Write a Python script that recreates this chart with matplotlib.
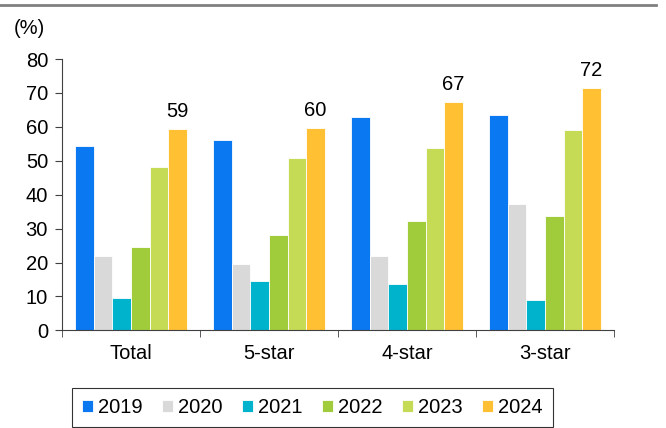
import numpy as np
import matplotlib
matplotlib.use("Agg")
import matplotlib.pyplot as plt
from matplotlib.lines import Line2D

plt.rcParams["font.family"] = ["Liberation Sans", "DejaVu Sans"]

categories = ["Total", "5-star", "4-star", "3-star"]
years = ["2019", "2020", "2021", "2022", "2023", "2024"]
v2019 = [54.3, 56.0, 62.8, 63.4]
v2020 = [21.8, 19.5, 21.8, 37.2]
v2021 = [9.7, 14.7, 13.6, 9.1]
v2022 = [24.5, 28.0, 32.4, 33.6]
v2023 = [48.1, 50.7, 53.7, 59.0]
v2024 = [59.4, 59.6, 67.4, 71.6]
colors = ["#0A78F0", "#D9D9D9", "#00B3CC", "#A0CC3C", "#C5DB55", "#FFC034"]

series = [v2019, v2020, v2021, v2022, v2023, v2024]
fs = 14.5

fig = plt.figure(figsize=(6.66, 4.28), dpi=100)
ax = fig.add_axes([0.093, 0.228, 0.829, 0.634])

x = np.arange(len(categories))
bw = 0.135
for i, (vals, col, yr) in enumerate(zip(series, colors, years)):
    pos = x + (i - 2.5) * bw
    ax.bar(pos, vals, width=bw, color=col, edgecolor="white", linewidth=0.6, label=yr)

# value labels above the 2024 bars
for xi, v in zip(x + 2.5 * bw, v2024):
    ax.text(xi, v + 2.3, f"{round(v):.0f}", ha="center", va="bottom", fontsize=fs)

ax.set_xlim(-0.5, len(categories) - 0.5)
ax.set_ylim(0, 80)
ax.set_yticks(range(0, 81, 10))
ax.set_xticks(x)
ax.set_xticklabels(categories)
ax.set_xticks(np.arange(-0.5, len(categories), 1), minor=True)
ax.tick_params(axis="x", which="major", length=0, labelsize=fs, pad=10)
ax.tick_params(axis="x", which="minor", length=5, color="#404040")
ax.tick_params(axis="y", length=5, pad=5, labelsize=fs, color="#404040")
for s in ["top", "right"]:
    ax.spines[s].set_visible(False)
for s in ["left", "bottom"]:
    ax.spines[s].set_color("#404040")
ax.text(0.020, 0.912, "(%)", transform=fig.transFigure, fontsize=fs, ha="left", va="bottom")

leg = fig.legend(loc="lower left", bbox_to_anchor=(0.093, -0.022, 0.752, 0.1), mode="expand",
                 ncol=6, fontsize=fs, frameon=True, fancybox=False, edgecolor="black",
                 handlelength=0.55, handleheight=0.55, handletextpad=0.25, borderpad=0.5,
                 columnspacing=0.8)
leg.get_frame().set_linewidth(0.8)

fig.add_artist(Line2D([0, 0.985], [0.988, 0.988], transform=fig.transFigure,
                      color="#808080", linewidth=2))

fig.savefig("out.png", dpi=100)
